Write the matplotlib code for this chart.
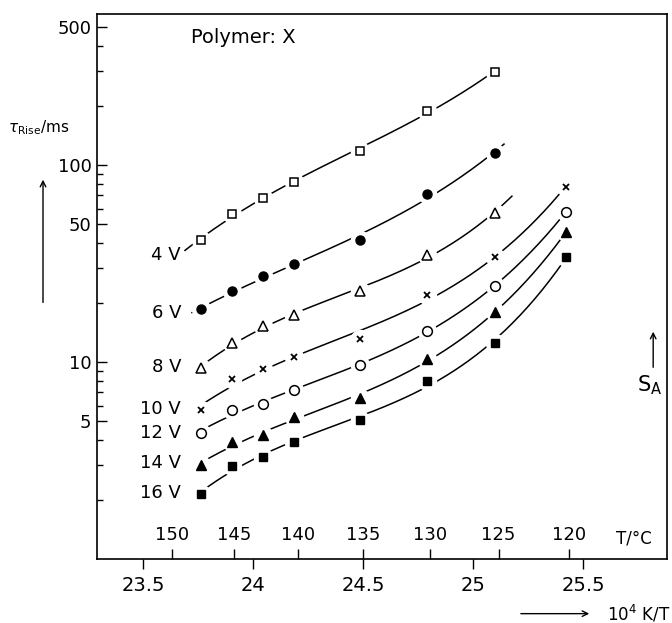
import numpy as np
import matplotlib
matplotlib.use("Agg")
import matplotlib.pyplot as plt
from matplotlib.ticker import FixedLocator, NullFormatter, FixedFormatter

# reciprocal temperature 10^4 K/T for the measured temperatures
inv_T = [23.764, 23.905, 24.046, 24.186, 24.486, 24.791, 25.100, 25.423]

voltages = ["4 V", "6 V", "8 V", "10 V", "12 V", "14 V", "16 V"]

# rise times in ms
tau_4V = [41.6, 56.2, 68.2, 82.2, 117.8, 188.6, 297.6]
tau_6V = [18.5, 22.8, 27.3, 31.4, 41.6, 71.0, 115.3]
tau_8V = [9.32, 12.5, 15.2, 17.3, 22.9, 34.9, 57.3]
tau_10V = [5.70, 8.17, 9.21, 10.6, 13.1, 21.9, 34.1, 77.6]
tau_12V = [4.38, 5.70, 6.10, 7.21, 9.66, 14.4, 24.3, 57.9]
tau_14V = [3.00, 3.94, 4.26, 5.24, 6.54, 10.4, 17.9, 45.5]
tau_16V = [2.13, 2.98, 3.31, 3.94, 5.08, 8.01, 12.5, 34.0]

T_ticks = [150, 145, 140, 135, 130, 125, 120]
x_ticks = [23.5, 24, 24.5, 25, 25.5]
y_major = [5, 10, 50, 100, 500]

series = [tau_4V, tau_6V, tau_8V, tau_10V, tau_12V, tau_14V, tau_16V]
styles = [
    dict(marker="s", mfc="white", ms=6, mew=1.1),
    dict(marker="o", mfc="black", ms=6.5),
    dict(marker="^", mfc="white", ms=6.5, mew=1.1),
    dict(marker="x", mfc="black", ms=4.5, mew=1.3),
    dict(marker="o", mfc="white", ms=7, mew=1.1),
    dict(marker="^", mfc="black", ms=7),
    dict(marker="s", mfc="black", ms=6),
]
# how far each fitted curve runs past its first / last point
ext_left = [0.073, 0.041, 0, 0, 0, 0, 0]
ext_right = [0, 0.041, 0.077, 0, 0, 0, 0]
label_y = [34.9, 17.7, 9.43, 5.77, 4.36, 3.07, 2.16]

plt.rcParams["font.family"] = "DejaVu Sans"
plt.rcParams["mathtext.fontset"] = "dejavusans"

fig = plt.figure(figsize=(6.72, 6.23), dpi=100)
ax = fig.add_axes([0.1443, 0.1027, 0.8483, 0.8748])
ax.set_yscale("log")
ax.set_xlim(23.291, 25.882)
ax.set_ylim(1.0, 583)

for vals, st, el, er, lab, ly in zip(series, styles, ext_left, ext_right, voltages, label_y):
    x = np.array(inv_T[:len(vals)])
    y = np.log10(vals)
    coef = np.polyfit(x, y, 3)
    xs = np.linspace(x[0] - el, x[-1] + er, 200)
    ax.plot(xs, 10 ** np.polyval(coef, xs), color="black", lw=1.1, zorder=1)
    # white halo leaves a gap in the curve around each point
    ax.plot(x, vals, ls="none", marker="o", ms=13, mfc="white", mec="white", zorder=2)
    ax.plot(x, vals, ls="none", color="black", mec="black", zorder=3, **st)
    ax.text(23.673, ly, lab, ha="right", va="center", fontsize=13)

ax.yaxis.set_major_locator(FixedLocator(y_major))
ax.yaxis.set_major_formatter(FixedFormatter([str(v) for v in y_major]))
minor = [m * 10 ** e for e in range(0, 3) for m in range(2, 10)]
ax.yaxis.set_minor_locator(FixedLocator([v for v in minor if v not in y_major]))
ax.yaxis.set_minor_formatter(NullFormatter())
ax.tick_params(axis="y", which="major", direction="in", length=7, width=1, labelsize=13, pad=4)
ax.tick_params(axis="y", which="minor", direction="in", length=4, width=1)

ax.set_xticks(x_ticks)
ax.set_xticklabels(["23.5", "24", "24.5", "25", "25.5"])
ax.tick_params(axis="x", direction="out", length=7, width=1, labelsize=14, pad=5)
ax.xaxis.set_minor_locator(FixedLocator([]))

for sp in ax.spines.values():
    sp.set_linewidth(1.2)

# temperature scale in °C, drawn on the bottom line with ticks pointing up
sec = ax.secondary_xaxis(0.0, functions=(lambda v: 1e4 / np.asarray(v, float) - 273.15,
                                         lambda t: 1e4 / (np.asarray(t, float) + 273.15)))
sec.set_alignment("top")
sec.set_xticks(T_ticks)
sec.set_xticklabels([str(t) for t in T_ticks])
sec.tick_params(axis="x", direction="out", length=7, width=1, labelsize=13, pad=4)
sec.xaxis.set_minor_locator(FixedLocator([]))
for sp in sec.spines.values():
    sp.set_visible(False)

ax.text(0.165, 0.956, "Polymer: X", transform=ax.transAxes, fontsize=14, va="center")
ax.text(0.910, 0.038, "T/°C", transform=ax.transAxes, fontsize=12, va="center")

fig.text(0.012, 0.795, r"$\tau_{\rm Rise}$/ms", fontsize=11, va="center")
fig.text(0.948, 0.382, r"S$_{\rm A}$", fontsize=15, va="center")
fig.text(0.997, 0.015, r"10$^4$ K/T", fontsize=12, va="center", ha="right")

arrow = dict(arrowstyle="->", color="black", lw=1, mutation_scale=10)
fig.add_artist(matplotlib.patches.FancyArrowPatch((0.064, 0.510), (0.064, 0.716),
                                                  transform=fig.transFigure, **arrow))
fig.add_artist(matplotlib.patches.FancyArrowPatch((0.972, 0.406), (0.972, 0.472),
                                                  transform=fig.transFigure, **arrow))
fig.add_artist(matplotlib.patches.FancyArrowPatch((0.771, 0.015), (0.881, 0.015),
                                                  transform=fig.transFigure, **arrow))

fig.savefig("out.png", dpi=100)
